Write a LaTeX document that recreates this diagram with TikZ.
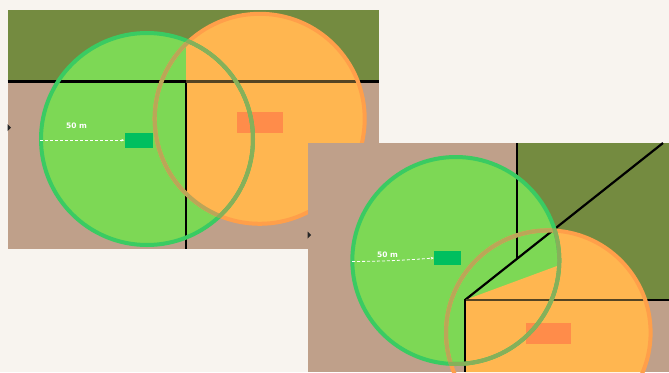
\documentclass[tikz,border=0pt]{standalone}
\usepackage{fontspec}
\setmainfont{DejaVu Sans}
\usetikzlibrary{arrows.meta}
\definecolor{bgc}{HTML}{F8F4EF}
\definecolor{olive}{HTML}{748B40}
\definecolor{soil}{HTML}{BFA08A}
\definecolor{gfill}{HTML}{7DD855}
\definecolor{ofill}{HTML}{FFB650}
\definecolor{gline}{HTML}{3ACB62}
\definecolor{oline}{HTML}{FF9F4A}
\definecolor{gmix}{HTML}{86B05A}
\definecolor{omix}{HTML}{BBA658}
\definecolor{gbox}{HTML}{00BF5F}
\definecolor{obox}{HTML}{FF8C4A}
\definecolor{wallmix}{HTML}{554423}
\tikzset{
  wall/.style={black,line width=2.2pt},
  wallsoft/.style={wallmix,line width=2.2pt},
  ring/.style={line width=4pt},
  gtag/.style={fill=gbox,inner sep=0pt},
  otag/.style={fill=obox,inner sep=0pt},
  dist/.style={white,line width=0.8pt,densely dashed,-{Stealth[length=3pt,width=2.5pt]}},
  distlabel/.style={text=white,font=\bfseries\fontsize{7.5}{8}\selectfont,inner sep=0pt},
  tick/.style={fill=black!85}
}
\begin{document}
\begin{tikzpicture}[x=1pt,y=-1pt]
\useasboundingbox (0,0) rectangle (669,372);
\clip (0,0) rectangle (669,372);
\fill[bgc] (0,0) rectangle (669,372);
% ---- left panel
\fill[soil] (7.5,10) rectangle (379,249);
\fill[olive] (7.5,10) rectangle (379,82);
\fill[gfill] (147,139) circle (106);
\begin{scope}
  \clip (186,0) rectangle (400,260);
  \fill[ofill] (259.7,118.8) circle (105);
\end{scope}
\draw[wall] (7.5,81.5) -- (186,81.5);
\draw[wall] (186,81.5) -- (186,249);
\draw[wallsoft] (186,81.5) -- (360,81.5);
\draw[wall] (360,81.5) -- (379,81.5);
\node[otag,minimum width=46.5pt,minimum height=21pt] (otagL) at (259.75,122.5) {};
\draw[oline,ring] (259.7,118.8) circle (105);
\draw[gline,ring] (147,139) circle (106);
\begin{scope}
  \clip (147,139) circle (108);
  \draw[omix,ring] (259.7,118.8) circle (105);
\end{scope}
\begin{scope}
  \clip (186,0) rectangle (400,260);
  \clip (259.7,118.8) circle (107);
  \draw[gmix,ring] (147,139) circle (106);
\end{scope}
\node[gtag,minimum width=28pt,minimum height=15pt] (gtagL) at (138.5,140.5) {};
\coordinate (edgeL) at (40,140.2);
\draw[dist] (edgeL) -- (gtagL.west |- edgeL);
\node[distlabel] (labelL) at (76.5,125.5) {50 m};
\fill[tick] (7.5,124) -- (11,127.5) -- (7.5,131) -- cycle;
% ---- right panel
\fill[soil] (307.5,143) rectangle (669,372);
\fill[olive] (517,143) -- (669,143) -- (669,300) -- (465,300) -- (517,259) -- cycle;
\fill[gfill] (455.8,260.5) circle (103.5);
\begin{scope}
  \clip (465,372) -- (465,300) -- (557,266) -- (558,200) -- (669,200) -- (669,372) -- cycle;
  \fill[ofill] (548.3,332.7) circle (102.3);
\end{scope}
\draw[wall] (517,143) -- (517,259);
\draw[wall] (465,300) -- (663,143);
\draw[wallsoft] (465,300) -- (646,300);
\draw[wall] (646,300) -- (669,300);
\draw[wall] (465,299) -- (465,372);
\node[otag,minimum width=45pt,minimum height=21pt] (otagR) at (548.5,333.5) {};
\draw[oline,ring] (548.3,332.7) circle (102.3);
\draw[gline,ring] (455.8,260.5) circle (103.5);
\begin{scope}
  \clip (455.8,260.5) circle (105.5);
  \draw[omix,ring] (548.3,332.7) circle (102.3);
\end{scope}
\begin{scope}
  \clip (548.3,332.7) circle (104.3);
  \draw[gmix,ring] (455.8,260.5) circle (103.5);
\end{scope}
\node[gtag,minimum width=27pt,minimum height=14pt] (gtagR) at (447.5,258) {};
\coordinate (edgeR) at (352,261.5);
\draw[dist] (edgeR) to[bend right=2] (gtagR.west);
\node[distlabel] (labelR) at (387.5,255) {50 m};
\fill[tick] (307.5,231.5) -- (311,235) -- (307.5,238.5) -- cycle;
\end{tikzpicture}
\end{document}
